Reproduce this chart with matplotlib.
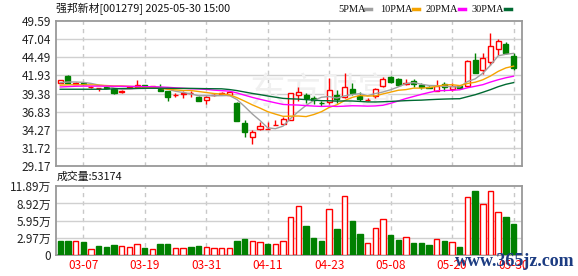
import numpy as np
import pandas as pd
import matplotlib
matplotlib.use('Agg')
import matplotlib.pyplot as plt
from matplotlib.patches import Rectangle
from matplotlib.lines import Line2D

plt.rcParams['font.family'] = ['Noto Sans CJK SC', 'DejaVu Sans']

title = '强邦新材[001279] 2025-05-30 15:00'
last_volume = '成交量:53174'

# daily K-line, 2025-03-04 .. 2025-05-30
opens = [40.92, 41.90, 40.76, 40.85, 40.27, 40.10, 40.35, 40.07, 39.56, 40.20,
         40.35, 40.60, 40.30, 40.03, 39.74, 39.10, 39.32, 39.40, 38.94, 38.48,
         39.10, 39.30, 39.20, 38.10, 35.27, 33.30, 34.35, 34.40, 34.90, 35.15,
         35.70, 39.20, 39.10, 38.80, 38.05, 38.20, 39.18, 38.94, 39.96, 39.04,
         38.45, 39.08, 40.49, 41.76, 41.43, 40.75, 41.15, 40.59, 40.30, 39.80,
         40.68, 39.96, 40.45, 40.45, 44.12, 42.70, 43.88, 45.60, 46.37, 44.60]
highs = [41.32, 42.04, 40.95, 40.97, 40.40, 40.22, 40.45, 40.10, 39.82, 40.40,
         41.30, 40.62, 40.50, 40.73, 39.80, 39.42, 39.70, 39.79, 38.96, 38.96,
         39.30, 39.60, 39.60, 38.15, 35.66, 34.25, 35.40, 35.40, 35.66, 36.10,
         39.45, 40.35, 39.42, 39.00, 38.26, 41.50, 39.90, 42.24, 40.83, 39.65,
         38.75, 40.10, 41.76, 41.90, 41.50, 41.39, 41.39, 40.80, 40.40, 41.30,
         41.05, 40.80, 40.50, 44.10, 45.15, 45.10, 47.97, 47.00, 46.57, 45.06]
lows = [40.88, 40.85, 40.70, 40.60, 40.20, 39.80, 40.15, 39.36, 39.50, 40.15,
        40.10, 40.20, 40.25, 39.68, 38.34, 38.86, 38.80, 38.86, 38.35, 37.90,
        39.05, 39.25, 39.10, 35.50, 33.30, 32.27, 34.30, 34.35, 34.90, 35.10,
        35.60, 38.38, 38.00, 37.90, 37.60, 37.90, 38.00, 38.80, 39.17, 38.38,
        38.30, 38.72, 40.35, 40.83, 40.45, 40.59, 40.35, 40.00, 40.10, 39.70,
        39.70, 39.80, 40.00, 40.30, 42.30, 42.15, 43.41, 44.80, 44.95, 42.70]
closes = [41.25, 40.87, 40.90, 40.65, 40.35, 40.10, 40.22, 39.46, 39.79, 40.35,
          40.59, 40.25, 40.40, 39.70, 38.94, 39.18, 39.42, 39.40, 38.38, 38.94,
          39.18, 39.45, 39.55, 35.56, 34.00, 33.92, 34.85, 34.40, 34.95, 35.80,
          39.40, 39.66, 38.72, 38.48, 38.00, 39.90, 38.57, 40.26, 39.50, 38.57,
          38.48, 40.03, 41.39, 41.06, 40.59, 40.83, 40.68, 40.26, 40.22, 40.45,
          40.35, 40.40, 40.10, 44.00, 42.33, 44.35, 46.00, 46.75, 45.10, 42.95]
# volume in 万 shares
volumes = [2.48, 2.48, 2.48, 2.31, 1.10, 1.56, 1.38, 1.73, 1.50, 1.38,
           1.85, 1.21, 1.04, 1.90, 1.90, 1.21, 1.21, 1.38, 1.56, 1.33,
           1.21, 1.21, 1.21, 2.42, 2.77, 2.37, 2.25, 1.90, 1.90, 2.42,
           6.52, 8.42, 5.02, 2.94, 2.42, 7.96, 4.50, 10.21, 5.89, 3.64,
           2.02, 4.62, 6.17, 3.46, 2.60, 3.06, 2.08, 2.08, 1.73, 2.71,
           2.42, 2.19, 1.38, 9.98, 11.08, 8.83, 11.08, 7.44, 6.58, 5.32]
# volume bar colour as shown: 1 = red (hollow), 0 = green (filled)
vol_up = [0, 0, 1, 0, 1, 0, 0, 0, 1, 1,
          1, 0, 1, 0, 0, 1, 1, 0, 0, 1,
          1, 1, 1, 0, 0, 1, 1, 0, 1, 1,
          1, 1, 0, 0, 0, 1, 0, 1, 0, 0,
          1, 1, 1, 0, 0, 1, 0, 0, 0, 1,
          0, 1, 0, 1, 0, 1, 1, 1, 0, 0]

# moving-average values before a full window exists inside the chart
ma5_head = [40.90, 41.00, 41.00, 40.95]
ma10_head = [40.55, 40.60, 40.60, 40.60, 40.60, 40.55, 40.50, 40.45, 40.45]
ma20_head = [40.30, 40.35, 40.40, 40.42, 40.42, 40.42, 40.42, 40.40, 40.40, 40.38,
             40.38, 40.35, 40.33, 40.30, 40.25, 40.18, 40.12, 40.05, 40.02]
ma30_head = [39.98, 39.98, 39.98, 39.98, 39.98, 39.98, 39.98, 40.05, 40.08, 40.10,
             40.10, 40.12, 40.12, 40.12, 40.12, 40.10, 40.10, 40.10, 40.08, 40.06,
             40.05, 40.04, 39.94, 39.79, 39.59, 39.39, 39.22, 39.03, 38.86]

date_ticks = [3, 11, 19, 27, 35, 43, 51, 59]
date_labels = ['03-07', '03-19', '03-31', '04-11', '04-23', '05-08', '05-20', '05-30']
price_ticks = [29.17, 31.72, 34.27, 36.83, 39.38, 41.93, 44.49, 47.04, 49.59]
vol_ticks = [0, 2.97, 5.95, 8.92, 11.89]
vol_labels = ['0', '2.97万', '5.95万', '8.92万', '11.89万']

ma_names = ['5PMA', '10PMA', '20PMA', '30PMA']
ma_colors = ['#a0a0a0', '#f5a300', '#ff00ff', '#006a32']

RED = '#ff0000'
GREEN = '#008000'


def moving_average(values, head, window):
    s = pd.Series(values).rolling(window).mean()
    s.iloc[:window - 1] = head
    return s.values


mas = [moving_average(closes, ma5_head, 5),
       moving_average(closes, ma10_head, 10),
       moving_average(closes, ma20_head, 20),
       moving_average(closes, ma30_head, 30)]

W, H = 578, 276
fig = plt.figure(figsize=(W / 100, H / 100), dpi=100)
ax = fig.add_axes([56 / W, 1 - 166 / H, 466 / W, 145 / H])
axv = fig.add_axes([56 / W, 1 - 255 / H, 466 / W, 68.7 / H])

n = len(closes)
x = np.arange(n)
w = 0.66

for i in range(n):
    o, h, l, c = opens[i], highs[i], lows[i], closes[i]
    col = GREEN if c < o else RED
    ax.vlines(i, l, h, color=col, lw=1, zorder=2)
    if c != o:
        face = 'white' if c > o else GREEN
        ax.add_patch(Rectangle((i - w / 2, min(o, c)), w, abs(c - o),
                               facecolor=face, edgecolor=col, lw=1, zorder=3))
    else:
        ax.hlines(c, i - w / 2, i + w / 2, color=col, lw=1, zorder=3)

for m, col in zip(mas, ma_colors):
    ax.plot(x, m, color=col, lw=1, zorder=4)

for i in range(n):
    col = RED if vol_up[i] else GREEN
    axv.bar(i, volumes[i], width=0.7, color='white' if vol_up[i] else GREEN,
            edgecolor=col, lw=1, zorder=3)

for a in (ax, axv):
    a.set_xlim(-0.55, 60.1)
    a.set_xticks(date_ticks)
    a.tick_params(length=0)
    for t in date_ticks:
        a.axvline(t, color='#c8c8c8', lw=1, ls=(0, (3, 3)), zorder=0)
    for s in a.spines.values():
        s.set_color('#999999')
        s.set_linewidth(1.3)

ax.set_ylim(price_ticks[0], price_ticks[-1])
ax.set_yticks(price_ticks)
ax.set_yticklabels(['%.2f' % v for v in price_ticks], fontsize=8.5, color='#222222')
ax.set_xticklabels([])
for v in price_ticks[1:-1]:
    ax.axhline(v, color='#d0d0d0', lw=1, zorder=0)

axv.set_ylim(0, vol_ticks[-1])
axv.set_yticks(vol_ticks)
axv.set_yticklabels(vol_labels, fontsize=8.5, color='#222222')
axv.set_xticklabels(date_labels, fontsize=8.5, color=RED)
axv.tick_params(axis='x', pad=3)
for v in vol_ticks[1:-1]:
    axv.axhline(v, color='#d0d0d0', lw=1, zorder=0)

# faint portal watermark
ax.text(0.57, 0.5, '东方财富', transform=ax.transAxes, fontsize=26,
        color='#f0f0f0', ha='center', va='center', zorder=0)

fig.text(56 / W, 1 - 9 / H, title, fontsize=7.8, va='center', ha='left', color='#111111')
fig.text(57 / W, 1 - 177 / H, last_volume, fontsize=7.8, va='center', ha='left', color='#111111')

leg_x = [338, 380, 426, 472]
dash_x = [365, 413, 459, 505]
for name, col, lx, dx in zip(ma_names, ma_colors, leg_x, dash_x):
    fig.text(lx / W, 1 - 9 / H, name, fontsize=7.5, va='center', ha='left',
             family='Liberation Serif', color='#111111')
    fig.add_artist(Line2D([dx / W, (dx + 6) / W], [1 - 9 / H, 1 - 9 / H],
                          color=col, lw=2.5, transform=fig.transFigure))

fig.text(455 / W, 1 - 261 / H, 'www.365jz.com', fontsize=13, ha='left', va='center',
         family='Liberation Serif', color='#1c3c82', fontweight='bold')

fig.savefig('out.png', dpi=100)
